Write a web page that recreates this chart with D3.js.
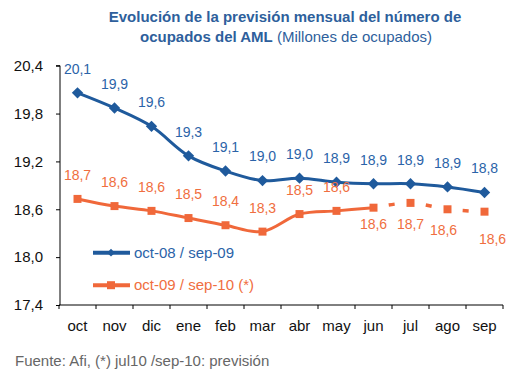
<!DOCTYPE html>
<html>
<head>
<meta charset="utf-8">
<script src="https://cdn.jsdelivr.net/npm/d3@7"></script>
<style>
  body { margin: 0; background: #fff; }
  svg { font-family: "Liberation Sans", Arial, Helvetica, sans-serif; }
</style>
</head>
<body>
<div id="chart"></div>
<script>
// months on the x axis
var months = ["oct", "nov", "dic", "ene", "feb", "mar", "abr", "may", "jun", "jul", "ago", "sep"];

// oct-08 / sep-09 (millions)
var serie0809 = [20.06, 19.87, 19.64, 19.27, 19.08, 18.96, 18.99, 18.94, 18.92, 18.92, 18.88, 18.81];
// oct-09 / sep-10 (*), jul-sep is forecast
var serie0910 = [18.73, 18.64, 18.58, 18.49, 18.40, 18.32, 18.54, 18.58, 18.62, 18.68, 18.60, 18.57];
var forecastFrom = 8; // index of "jun", dashed from here on

var yTicks = [17.4, 18.0, 18.6, 19.2, 19.8, 20.4];
var legendLabels = ["oct-08 / sep-09", "oct-09 / sep-10 (*)"];

var blue = "#1f5a9c", blueText = "#2b63a8";
var orange = "#f0683a", orangeText = "#f06e40";

var W = 519, H = 371;

var svg = d3.select("#chart")
  .append("svg")
    .attr("width", W)
    .attr("height", H);

// title
var title = svg.append("text")
  .attr("text-anchor", "middle")
  .style("fill", "#2e5f9c")
  .style("font-size", "15px");
title.append("tspan")
  .attr("x", 285).attr("y", 22)
  .style("font-weight", "bold")
  .text("Evolución de la previsión mensual del número de");
var t2 = title.append("tspan")
  .attr("x", 286).attr("y", 42);
t2.append("tspan").style("font-weight", "bold").text("ocupados del AML");
t2.append("tspan").text(" (Millones de ocupados)");

// scales
var x = d3.scaleBand()
  .domain(months)
  .range([59, 503]);

var y = d3.scaleLinear()
  .domain([17.4, 20.4])
  .range([305, 65.7]);

function cx(d, i) { return x(months[i]) + x.bandwidth() / 2; }

// y axis
svg.append("g")
  .attr("transform", "translate(60,0)")
  .call(d3.axisLeft(y).tickValues(yTicks).tickSize(4).tickPadding(13)
    .tickFormat(function(d) { return d3.format(".1f")(d).replace(".", ","); }))
  .call(function(g) {
    g.select(".domain").attr("d", "M-4," + y(20.4) + "H0V" + y(17.4)).attr("stroke", "#000");
    g.selectAll("line").attr("stroke", "#000");
    g.selectAll("text").style("font-size", "15px").style("fill", "#111");
  });

// x axis: labels at the centers, ticks on the band edges
var xAxis = svg.append("g")
  .attr("transform", "translate(0,305)")
  .call(d3.axisBottom(x).tickSize(0).tickPadding(15.5))
  .call(function(g) {
    g.select(".domain").attr("d", "M" + x.range()[0] + ",0H" + x.range()[1]).attr("stroke", "#000");
    g.selectAll("text").style("font-size", "15px").style("fill", "#111");
  });
xAxis.selectAll(".edge")
  .data(months.concat(["end"]))
  .enter()
  .append("line")
    .attr("class", "edge")
    .attr("x1", function(d, i) { return x.range()[0] + i * x.step(); })
    .attr("x2", function(d, i) { return x.range()[0] + i * x.step(); })
    .attr("y1", 0)
    .attr("y2", 4)
    .attr("stroke", "#000");

var line = d3.line()
  .x(function(d) { return d.x; })
  .y(function(d) { return y(d.v); })
  .curve(d3.curveCatmullRom.alpha(0.5));

function pts(arr) {
  return arr.map(function(v, i) { return {x: cx(v, i), v: v, i: i}; });
}

var p0809 = pts(serie0809);
var p0910 = pts(serie0910);

// blue series
svg.append("path")
  .attr("d", line(p0809))
  .style("fill", "none")
  .style("stroke", blue)
  .style("stroke-width", 3);

var diamond = d3.symbol().type(d3.symbolSquare).size(64);
svg.selectAll(".dia")
  .data(p0809)
  .enter()
  .append("path")
    .attr("class", "dia")
    .attr("d", diamond)
    .attr("transform", function(d) { return "translate(" + d.x + "," + y(d.v) + ") rotate(45)"; })
    .style("fill", blue);

// orange series: solid real data, dashed forecast
svg.append("path")
  .attr("d", line(p0910.slice(0, forecastFrom + 1)))
  .style("fill", "none")
  .style("stroke", orange)
  .style("stroke-width", 3);

svg.append("path")
  .attr("d", line(p0910.slice(forecastFrom)))
  .style("fill", "none")
  .style("stroke", orange)
  .style("stroke-width", 3.5)
  .style("stroke-dasharray", "6,31.3")
  .style("stroke-dashoffset", -15.5);

var square = d3.symbol().type(d3.symbolSquare).size(64);
svg.selectAll(".sq")
  .data(p0910)
  .enter()
  .append("path")
    .attr("class", "sq")
    .attr("d", square)
    .attr("transform", function(d) { return "translate(" + d.x + "," + y(d.v) + ")"; })
    .style("fill", orange);

// data labels
var fmt = function(v) { return d3.format(".1f")(v).replace(".", ","); };

svg.selectAll(".lab0809")
  .data(p0809)
  .enter()
  .append("text")
    .attr("x", function(d) { return d.x; })
    .attr("y", function(d) { return y(d.v) - 24; })
    .attr("dy", "0.35em")
    .attr("text-anchor", "middle")
    .style("font-size", "14px")
    .style("fill", blueText)
    .text(function(d) { return fmt(d.v); });

// forecast labels sit under the points (hand placed in the original)
var belowDy = [16, 21, 21, 27], belowDx = [0, 0, -4, 8];
svg.selectAll(".lab0910")
  .data(p0910)
  .enter()
  .append("text")
    .attr("x", function(d) { return d.i < forecastFrom ? d.x : d.x + belowDx[d.i - forecastFrom]; })
    .attr("y", function(d) { return d.i < forecastFrom ? y(d.v) - 24 : y(d.v) + belowDy[d.i - forecastFrom]; })
    .attr("dy", "0.35em")
    .attr("text-anchor", "middle")
    .style("font-size", "14px")
    .style("fill", orangeText)
    .text(function(d) { return fmt(d.v); });

// legend
var legend = svg.selectAll(".legend")
  .data(legendLabels)
  .enter()
  .append("g")
    .attr("class", "legend")
    .attr("transform", function(d, i) { return "translate(93," + (252.7 + i * 32.5) + ")"; });

legend.append("line")
  .attr("x1", 0).attr("x2", 37)
  .style("stroke", function(d, i) { return i == 0 ? blue : orange; })
  .style("stroke-width", 4);

legend.append("path")
  .attr("d", function(d, i) { return d3.symbol().type(d3.symbolSquare).size(i == 0 ? 30 : 64)(); })
  .attr("transform", function(d, i) { return "translate(18,0)" + (i == 0 ? " rotate(45)" : ""); })
  .style("fill", function(d, i) { return i == 0 ? blue : orange; });

legend.append("text")
  .attr("x", 41)
  .attr("dy", "0.35em")
  .style("font-size", "15px")
  .style("fill", function(d, i) { return i == 0 ? blueText : orangeText; })
  .text(function(d) { return d; });

// source
svg.append("text")
  .attr("x", 15)
  .attr("y", 366)
  .style("font-size", "15px")
  .style("fill", "#666")
  .text("Fuente: Afi, (*) jul10 /sep-10: previsión");
</script>
</body>
</html>
